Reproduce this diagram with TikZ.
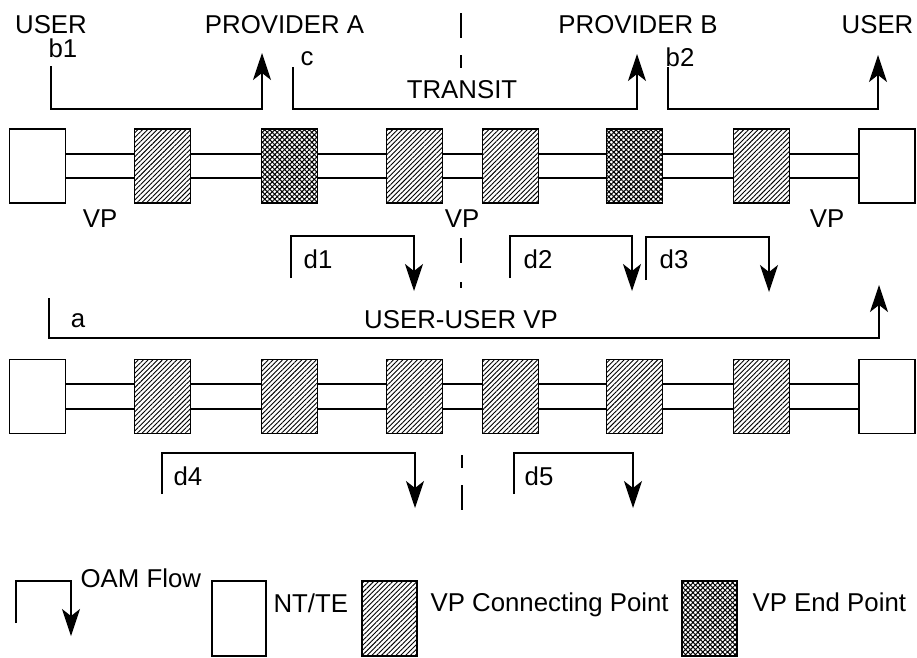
\documentclass[tikz,border=0pt]{standalone}
\usepackage{fontspec}
\setmainfont{Liberation Sans}
\usetikzlibrary{arrows.meta,patterns.meta}

\begin{document}
\begin{tikzpicture}[x=1pt,y=-1pt,line width=1.2pt,
  font=\fontsize{25.8}{30}\selectfont,
  box/.style={draw,line width=1.3pt,minimum width=56pt,minimum height=74pt,inner sep=0pt},
  ntte/.style={box,fill=white},
  conn/.style={box,pattern={Lines[angle=45,distance=3.4pt,line width=0.9pt]}},
  endpt/.style={box,pattern={Hatch[angle=45,distance=3.5pt,line width=1pt]}},
  lbl/.style={anchor=base,inner sep=0pt},
  lblw/.style={anchor=base west,inner sep=0pt},
  flow/.style={-{Stealth[length=27pt,width=18pt,inset=7pt]}},
  divider/.style={line width=1.2pt}
]
\useasboundingbox (0,0) rectangle (917,657);

% ---- upper chain: provider A / transit / provider B ----
\node[ntte]  (u1) at (37.5,166) {};
\node[conn]  (u2) at (162.5,166) {};
\node[endpt] (u3) at (289.5,166) {};
\node[conn]  (u4) at (414.5,166) {};
\node[conn]  (u5) at (510.5,166) {};
\node[endpt] (u6) at (634.5,166) {};
\node[conn]  (u7) at (761.5,166) {};
\node[ntte]  (u8) at (887,166) {};
\foreach \a/\b in {u1/u2,u2/u3,u3/u4,u4/u5,u5/u6,u6/u7,u7/u8}{
  \draw ([yshift=12pt]\a.east) -- ([yshift=12pt]\b.west);
  \draw ([yshift=-12pt]\a.east) -- ([yshift=-12pt]\b.west);
}

% ---- lower chain: user-user VP ----
\node[ntte] (l1) at (37.5,396.5) {};
\node[conn] (l2) at (162.5,396.5) {};
\node[conn] (l3) at (289.5,396.5) {};
\node[conn] (l4) at (414.5,396.5) {};
\node[conn] (l5) at (510.5,396.5) {};
\node[conn] (l6) at (634.5,396.5) {};
\node[conn] (l7) at (761.5,396.5) {};
\node[ntte] (l8) at (887,396.5) {};
\foreach \a/\b in {l1/l2,l2/l3,l3/l4,l4/l5,l5/l6,l6/l7,l7/l8}{
  \draw ([yshift=12.5pt]\a.east) -- ([yshift=12.5pt]\b.west);
  \draw ([yshift=-12.5pt]\a.east) -- ([yshift=-12.5pt]\b.west);
}

% ---- domain labels ----
\node[lbl] (tUserL) at (51,33) {USER};
\node[lbl] (tProvA) at (284.5,33) {PROVIDER A};
\node[lbl] (tProvB) at (638,33) {PROVIDER B};
\node[lbl] (tUserR) at (877.5,33) {USER};
\node[lbl] (tTransit) at (462,98) {TRANSIT};
\node[lbl] (vpL) at (100,227) {VP};
\node[lbl] (vpM) at (462,227) {VP};
\node[lbl] (vpR) at (827,227) {VP};
\node[lbl] (tUU) at (461,328) {USER-USER VP};

% ---- OAM flows, segment level ----
\coordinate (b1s) at (51,66);   \coordinate (b1e) at (262,53);
\draw[flow] (b1s) -- (51,109) -- (262,109) -- (b1e);
\node[lbl] (tb1) at (63,57) {b1};

\coordinate (cs) at (293,67);   \coordinate (ce) at (637,54);
\draw[flow] (cs) -- (293,109) -- (637,109) -- (ce);
\node[lbl] (tc) at (307,65) {c};

\coordinate (b2s) at (668,67);  \coordinate (b2e) at (878,55);
\draw[flow] (b2s) -- (668,109) -- (878,109) -- (b2e);
\node[lbl] (tb2) at (680,66) {b2};

\coordinate (d1s) at (291,278); \coordinate (d1e) at (414,291);
\draw[flow] (d1s) -- (291,236) -- (414,236) -- (d1e);
\node[lbl] (td1) at (318,268) {d1};

\coordinate (d2s) at (510,278); \coordinate (d2e) at (632,291);
\draw[flow] (d2s) -- (510,236) -- (632,236) -- (d2e);
\node[lbl] (td2) at (538,268) {d2};

\coordinate (d3s) at (646,280); \coordinate (d3e) at (769,292);
\draw[flow] (d3s) -- (646,237) -- (769,237) -- (d3e);
\node[lbl] (td3) at (674,268) {d3};

% ---- OAM flow, end to end ----
\coordinate (as) at (49,298);   \coordinate (ae) at (879,285);
\draw[flow] (as) -- (49,338) -- (879,338) -- (ae);
\node[lbl] (ta) at (78,327) {a};

% ---- OAM flows, lower chain ----
\coordinate (d4s) at (162,494); \coordinate (d4e) at (415,508);
\draw[flow] (d4s) -- (162,453) -- (415,453) -- (d4e);
\node[lbl] (td4) at (188,485) {d4};

\coordinate (d5s) at (514,494); \coordinate (d5e) at (633,508);
\draw[flow] (d5s) -- (514,453) -- (633,453) -- (d5e);
\node[lbl] (td5) at (539,485) {d5};

% ---- provider boundary ----
\draw[divider] (461,13) -- (461,38);
\draw[divider] (461,55) -- (461,68);
\draw[divider] (461,238) -- (461,263);
\draw[divider] (461,282) -- (461,288);
\draw[divider] (462,455) -- (462,468);
\draw[divider] (462,485) -- (462,510);

% ---- legend ----
\coordinate (ks) at (16,623); \coordinate (ke) at (71,636);
\draw[flow] (ks) -- (16,581) -- (71,581) -- (ke);
\node[lblw] (kOam) at (80,587) {OAM Flow};
\node[ntte,minimum width=54pt,minimum height=75pt] (kNt) at (239,618.5) {};
\node[lblw] (kNtT) at (273,612) {NT/TE};
\node[conn,minimum width=55pt,minimum height=75pt] (kCp) at (389.5,618.5) {};
\node[lblw] (kCpT) at (430,611) {VP Connecting Point};
\node[endpt,minimum width=55pt,minimum height=75pt] (kEp) at (709.5,618.5) {};
\node[lblw] (kEpT) at (752,611) {VP End Point};
\end{tikzpicture}
\end{document}
